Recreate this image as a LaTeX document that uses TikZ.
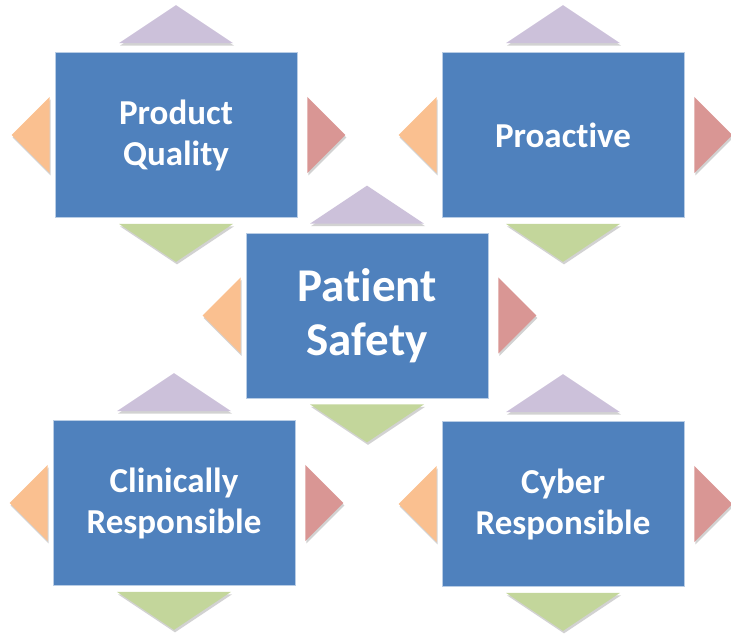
\documentclass[tikz,border=0pt]{standalone}
\usepackage{fontspec}
\setmainfont{Carlito}[Ligatures={NoCommon}, RawFeature={-calt;-clig}]
\usetikzlibrary{calc,shadows}
\definecolor{BoxBlue}{HTML}{4F81BD}
\definecolor{BoxEdge}{HTML}{B9CDE5}
\definecolor{TriUp}{HTML}{CCC1DA}
\definecolor{TriDown}{HTML}{C3D69B}
\definecolor{TriLeft}{HTML}{FAC090}
\definecolor{TriRight}{HTML}{D99694}

\tikzset{
  box/.style={draw=BoxEdge, line width=0.8pt, fill=BoxBlue, minimum width=242pt, minimum height=165pt, inner sep=0pt, text=white, align=center, font=\bfseries\fontsize{35}{41}\selectfont},
  bigbox/.style={box, font=\bfseries\fontsize{47}{54}\selectfont},
  tri/.style={drop shadow={shadow xshift=1pt, shadow yshift=-2.5pt, opacity=0.25, fill=black!70}},
}

% four pointers round a box
\newcommand{\pointers}[1]{%
\fill[TriUp, tri] ($(#1.north)+(-57,9)$) -- ($(#1.north)+(57,9)$) -- ($(#1.north)+(0,47)$) -- cycle;%
\fill[TriDown, tri] ($(#1.south)+(-57,-6)$) -- ($(#1.south)+(57,-6)$) -- ($(#1.south)+(0,-44)$) -- cycle;%
\fill[TriLeft, tri] ($(#1.west)+(-5,38)$) -- ($(#1.west)+(-5,-38)$) -- ($(#1.west)+(-43,0)$) -- cycle;%
\fill[TriRight, tri] ($(#1.east)+(10,38)$) -- ($(#1.east)+(10,-38)$) -- ($(#1.east)+(48,0)$) -- cycle;%
}

\begin{document}
\begin{tikzpicture}[x=1pt, y=1pt]%
\useasboundingbox (0,0) rectangle (731,634);%
\node[box] (quality) at (176,499) {Product\\Quality};%
\node[box] (proactive) at (563,499) {Proact\kern0pt ive};%
\node[bigbox] (safety) at (367,318.5) {Pat\kern0pt ient\\Safety};%
\node[box] (clinical) at (174,131) {Clinically\\Responsible};%
\node[box] (cyber) at (563,130) {Cyber\\Responsible};%
\pointers{quality}%
\pointers{proactive}%
\pointers{safety}%
\pointers{clinical}%
\pointers{cyber}%
\end{tikzpicture}
\end{document}
